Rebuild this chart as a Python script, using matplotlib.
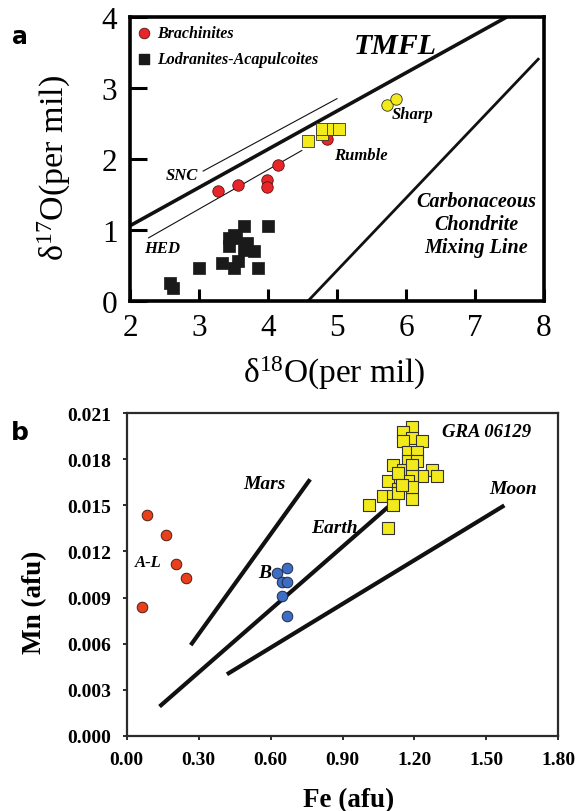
import matplotlib
matplotlib.use("Agg")
import matplotlib.pyplot as plt

plt.rcParams['font.family'] = ['Liberation Serif', 'DejaVu Serif']
plt.rcParams['mathtext.fontset'] = 'custom'
plt.rcParams['mathtext.rm'] = 'Liberation Serif'
plt.rcParams['mathtext.it'] = 'Liberation Serif:italic'

# ---- panel a: oxygen isotopes ----
brach_x = [3.28, 3.57, 3.99, 3.99, 4.15, 4.86]
brach_y = [1.55, 1.64, 1.70, 1.61, 1.92, 2.28]
rumble_x = [4.58, 4.78, 4.78, 4.94, 5.03]
rumble_y = [2.26, 2.35, 2.42, 2.42, 2.42]
sharp_x = [5.72, 5.86]
sharp_y = [2.76, 2.84]
lodr_x = [2.58, 2.63, 3.00, 3.34, 3.43, 3.43, 3.50, 3.53, 3.57, 3.65, 3.65, 3.70, 3.79, 3.85, 4.00, 3.50]
lodr_y = [0.25, 0.18, 0.47, 0.54, 0.89, 0.78, 0.47, 0.89, 0.56, 1.06, 0.72, 0.82, 0.71, 0.47, 1.06, 0.93]

tmfl_x, tmfl_y = [2.0, 7.46], [1.06, 4.0]
ccam_x, ccam_y = [4.58, 7.93], [0.0, 3.42]
snc_x, snc_y = [3.06, 5.0], [1.83, 2.85]
hed_x, hed_y = [2.27, 4.49], [0.89, 2.12]

# ---- panel b: Mn vs Fe ----
al_x = [0.086, 0.164, 0.206, 0.246, 0.063]
al_y = [0.0144, 0.0131, 0.0112, 0.0103, 0.0084]
br_x = [0.627, 0.668, 0.646, 0.670, 0.646, 0.668]
br_y = [0.0106, 0.0109, 0.0100, 0.0100, 0.0091, 0.0078]
gra_x = [1.191, 1.153, 1.191, 1.153, 1.230, 1.172, 1.212, 1.172, 1.212, 1.112,
         1.153, 1.191, 1.272, 1.293, 1.230, 1.191, 1.130, 1.091, 1.172, 1.130,
         1.070, 1.112, 1.191, 1.130, 1.112, 1.010, 1.091, 1.191, 1.130, 1.150]
gra_y = [0.0201, 0.0198, 0.0194, 0.0192, 0.0192, 0.0185, 0.0185, 0.0179, 0.0179, 0.0176,
         0.0173, 0.0176, 0.0173, 0.0169, 0.0169, 0.0169, 0.0166, 0.0166, 0.0166, 0.0161,
         0.0156, 0.0156, 0.0154, 0.0158, 0.0150, 0.0150, 0.0135, 0.0162, 0.0171, 0.0163]

mars_x, mars_y = [0.267, 0.765], [0.0059, 0.0167]
earth_x, earth_y = [0.137, 1.09], [0.0019, 0.0149]
moon_x, moon_y = [0.418, 1.575], [0.0040, 0.0150]

W, H = 579, 812
fig = plt.figure(figsize=(W / 100, H / 100), dpi=100)

def px(x0, y0, x1, y1):
    return [x0 / W, 1 - y1 / H, (x1 - x0) / W, (y1 - y0) / H]

bi = dict(fontweight='bold', fontstyle='italic')

# ===== panel a =====
ax = fig.add_axes(px(130, 18, 544, 302))
ax.set_xlim(2, 8)
ax.set_ylim(0, 4)
for s in ax.spines.values():
    s.set_linewidth(2.6)
ax.tick_params(axis='both', direction='in', width=2.2, labelsize=22.5, pad=9)
ax.tick_params(axis='y', length=12)
ax.tick_params(axis='x', length=8.5)
ax.set_xticks(range(2, 9))
ax.set_yticks(range(0, 5))

ax.plot(tmfl_x, tmfl_y, color='#111111', lw=2.6, solid_capstyle='butt')
ax.plot(ccam_x, ccam_y, color='#111111', lw=2.0, solid_capstyle='butt')
ax.plot(snc_x, snc_y, color='#111111', lw=0.8)
ax.plot(hed_x, hed_y, color='#111111', lw=0.8)

ax.scatter(lodr_x, lodr_y, marker='s', s=78, color='#1a1a1a', edgecolors='#1a1a1a', linewidths=0.5, zorder=3)
ax.scatter(brach_x, brach_y, marker='o', s=68, color='#e8262a', edgecolors='#5a1010', linewidths=0.6, zorder=3)
ax.scatter(rumble_x, rumble_y, marker='s', s=68, color='#f3ea1c', edgecolors='#333333', linewidths=0.6, zorder=4)
ax.scatter(sharp_x, sharp_y, marker='o', s=68, color='#f3ea1c', edgecolors='#333333', linewidths=0.6, zorder=4)

ax.scatter([2.21], [3.77], marker='o', s=58, color='#e8262a', edgecolors='#5a1010', linewidths=0.6, zorder=4)
ax.scatter([2.20], [3.41], marker='s', s=52, color='#1a1a1a', zorder=4)
ax.text(2.39, 3.77, 'Brachinites', fontsize=11.5, va='center', **bi)
ax.text(2.39, 3.41, 'Lodranites-Acapulcoites', fontsize=11.5, va='center', **bi)
ax.text(5.84, 3.60, 'TMFL', fontsize=21.5, ha='center', va='center', **bi)
ax.text(5.80, 2.64, 'Sharp', fontsize=12, va='center', **bi)
ax.text(4.96, 2.05, 'Rumble', fontsize=12, va='center', **bi)
ax.text(2.52, 1.77, 'SNC', fontsize=12, va='center', **bi)
ax.text(2.20, 0.75, 'HED', fontsize=12, va='center', **bi)
ax.text(7.02, 1.08, 'Carbonaceous\nChondrite\nMixing Line', fontsize=14.5, ha='center', va='center',
        linespacing=1.2, **bi)

fig.text(54 / W, 1 - 168 / H, 'δ$^{17}$O(per mil)', rotation=90, fontsize=24.5, ha='center', va='center')
fig.text(334 / W, 1 - 373 / H, 'δ$^{18}$O(per mil)', fontsize=24, ha='center', va='center')
fig.text(20 / W, 1 - 37 / H, 'a', fontsize=17, fontweight='bold', family='DejaVu Sans', ha='center', va='center')

# ===== panel b =====
bx = fig.add_axes(px(126.7, 414.3, 558.3, 736.7))
bx.set_xlim(0, 1.8)
bx.set_ylim(0, 0.021)
for s in bx.spines.values():
    s.set_linewidth(1.6)
    s.set_color('#2b2b2b')
bx.set_xticks([0, 0.3, 0.6, 0.9, 1.2, 1.5, 1.8])
bx.set_xticklabels(['0.00', '0.30', '0.60', '0.90', '1.20', '1.50', '1.80'])
bx.set_yticks([0, 0.003, 0.006, 0.009, 0.012, 0.015, 0.018, 0.021])
bx.set_yticklabels(['0.000', '0.003', '0.006', '0.009', '0.012', '0.015', '0.018', '0.021'])
bx.tick_params(axis='both', direction='out', length=3, width=1.4, color='#2b2b2b', labelsize=14, pad=8)
for lab in bx.get_xticklabels() + bx.get_yticklabels():
    lab.set_fontweight('bold')

bx.plot(mars_x, mars_y, color='#111111', lw=3.0, solid_capstyle='butt')
bx.plot(earth_x, earth_y, color='#111111', lw=3.0, solid_capstyle='butt')
bx.plot(moon_x, moon_y, color='#111111', lw=3.0, solid_capstyle='butt')

bx.scatter(al_x, al_y, marker='o', s=58, color='#e8401c', edgecolors='#4a2010', linewidths=0.7, zorder=3)
bx.scatter(br_x, br_y, marker='o', s=58, color='#3d6ec4', edgecolors='#1e2a4a', linewidths=0.7, zorder=3)
bx.scatter(gra_x, gra_y, marker='s', s=72, color='#f3ea1c', edgecolors='#333333', linewidths=0.8, zorder=3)

bx.text(1.315, 0.0198, 'GRA 06129', fontsize=13.5, va='center', **bi)
bx.text(0.485, 0.0164, 'Mars', fontsize=14, va='center', **bi)
bx.text(0.769, 0.01353, 'Earth', fontsize=14, va='center', **bi)
bx.text(1.513, 0.01607, 'Moon', fontsize=14, va='center', **bi)
bx.text(0.034, 0.0113, 'A-L', fontsize=12, va='center', **bi)
bx.text(0.55, 0.0106, 'B', fontsize=14, va='center', **bi)

fig.text(35 / W, 1 - 602 / H, 'Mn (afu)', rotation=90, fontsize=19.5, fontweight='bold', ha='center', va='center')
fig.text(349 / W, 1 - 801 / H, 'Fe (afu)', fontsize=19.5, fontweight='bold', ha='center', va='center')
fig.text(20 / W, 1 - 433 / H, 'b', fontsize=18, fontweight='bold', family='DejaVu Sans', ha='center', va='center')

fig.savefig('out.png', dpi=100)
